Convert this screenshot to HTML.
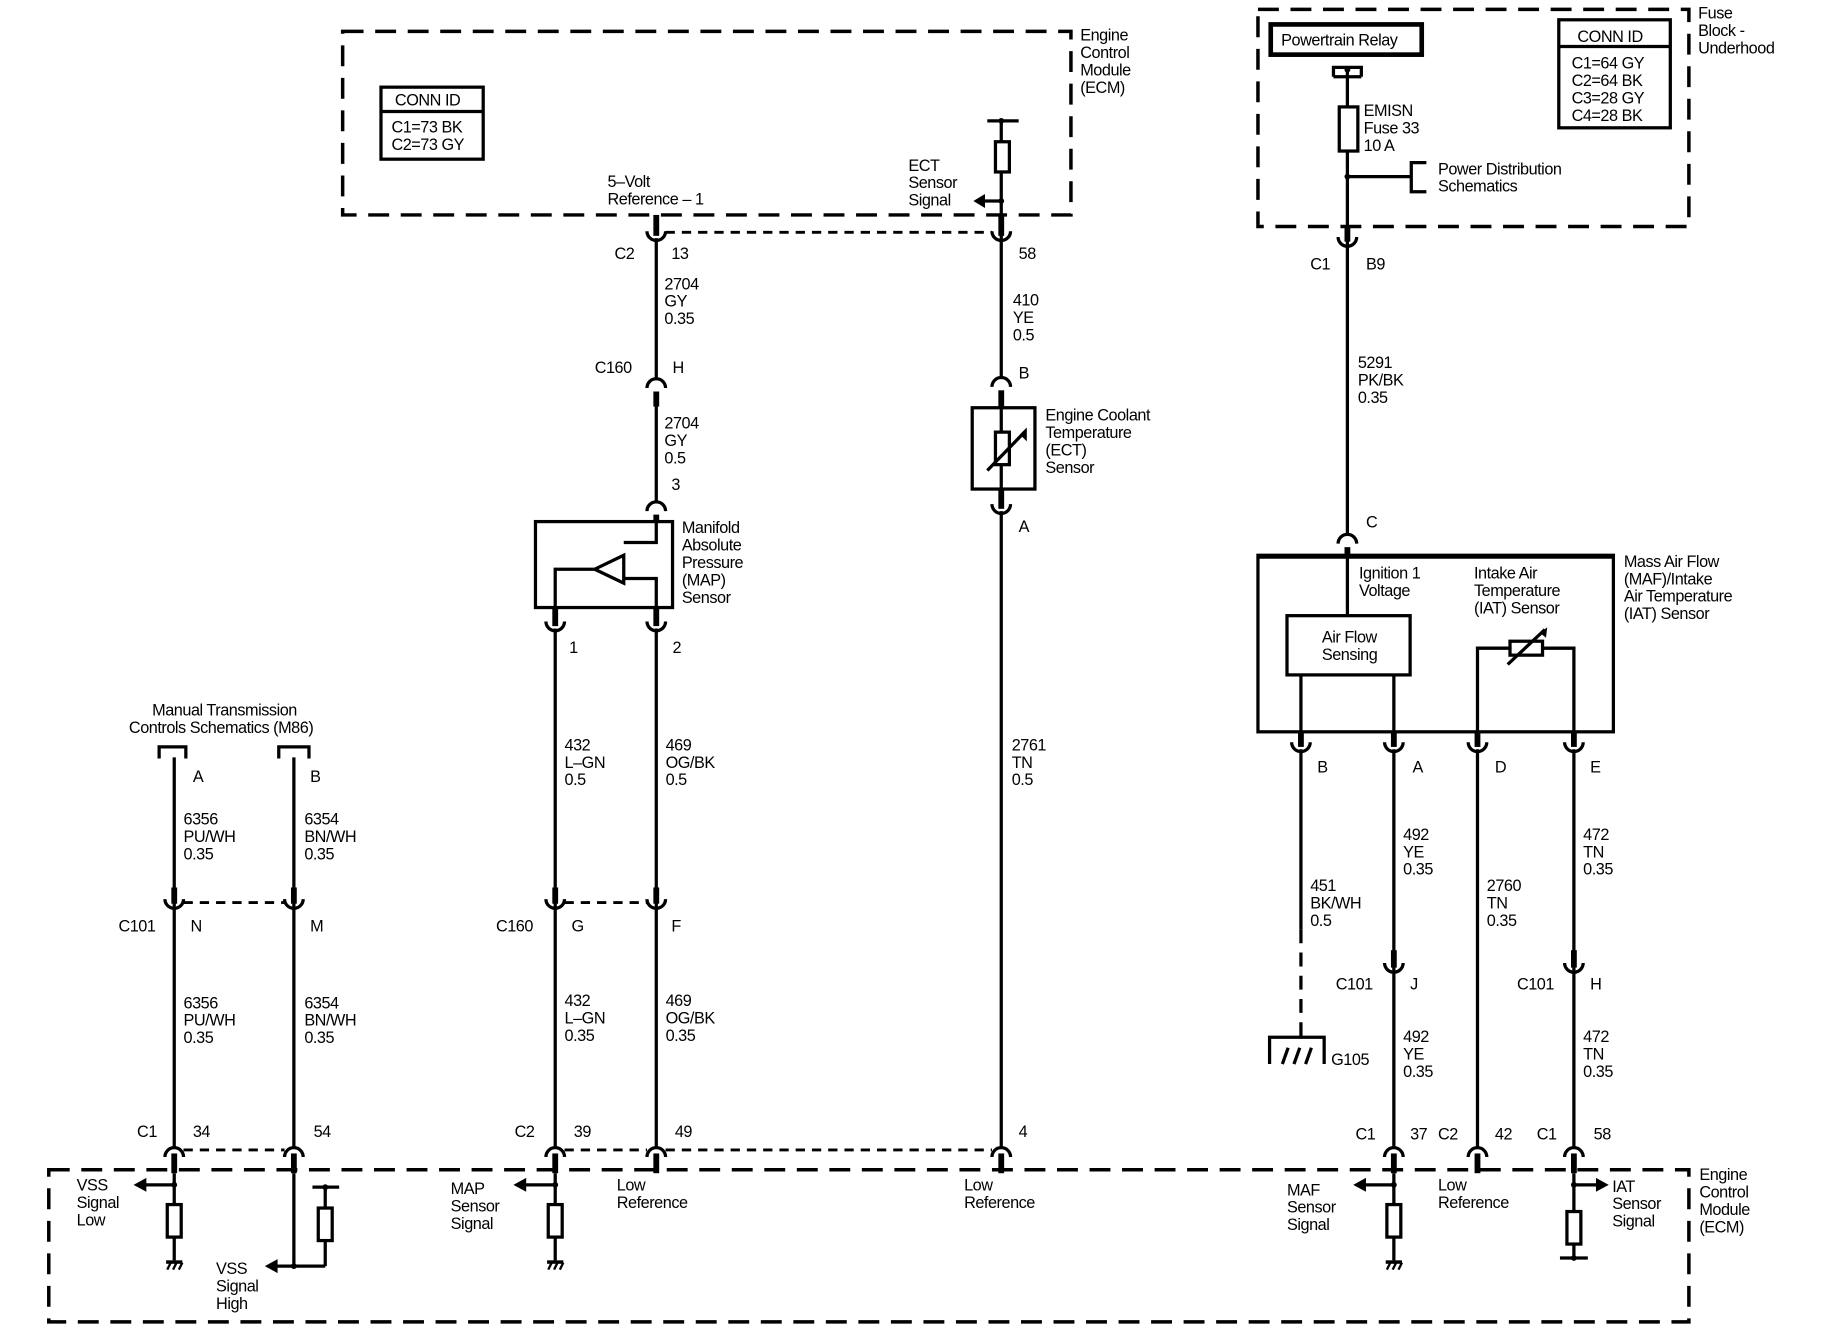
<!DOCTYPE html>
<html><head><meta charset="utf-8"><style>
html,body{margin:0;padding:0;background:#fff;}
svg{display:block}
text{font-family:"Liberation Sans",Arial,sans-serif;font-size:14px;fill:#000;letter-spacing:-0.4px}
</style></head><body>
<svg width="1822" height="1344" viewBox="0 0 1568.6 1157" xmlns="http://www.w3.org/2000/svg">
<g fill="none" stroke="#000" stroke-width="3" stroke-dasharray="18,10">
<rect x="295" y="27" width="627" height="158"/>
<rect x="1083" y="8" width="371" height="187"/>
<rect x="42" y="1007" width="1412" height="131"/>
</g>
<g fill="none" stroke="#000" stroke-width="2.5" stroke-dasharray="8,6">
<line x1="573" y1="200" x2="854" y2="200"/>
<line x1="486" y1="777" x2="557" y2="777"/>
<line x1="158" y1="777" x2="245" y2="777"/>
<line x1="486" y1="990" x2="557" y2="990"/>
<line x1="573" y1="990" x2="854" y2="990"/>
<line x1="158" y1="990" x2="245" y2="990"/>
</g>
<g fill="none" stroke="#000" stroke-width="2.8">
<line x1="565" y1="205" x2="565" y2="326"/>
<line x1="565" y1="345" x2="565" y2="432"/>
<line x1="862" y1="104" x2="862" y2="325"/>
<line x1="862" y1="440" x2="862" y2="988"/>
<line x1="478" y1="541" x2="478" y2="988"/>
<line x1="565" y1="541" x2="565" y2="988"/>
<line x1="150" y1="652" x2="150" y2="988"/>
<line x1="253" y1="652" x2="253" y2="988"/>
<line x1="1160" y1="60" x2="1160" y2="460"/>
<line x1="1120" y1="645" x2="1120" y2="800"/>
<line x1="1120" y1="800" x2="1120" y2="892" stroke-dasharray="12,8"/>
<line x1="1200" y1="645" x2="1200" y2="988"/>
<line x1="1272" y1="645" x2="1272" y2="988"/>
<line x1="1355" y1="645" x2="1355" y2="988"/>
<path d="M557,199 A8,8 0 0,0 573,199"/><path d="M854,199 A8,8 0 0,0 870,199"/>
<path d="M470,535 A8,8 0 0,0 486,535"/><path d="M557,535 A8,8 0 0,0 573,535"/>
<path d="M470,774 A8,8 0 0,0 486,774"/><path d="M557,774 A8,8 0 0,0 573,774"/>
<path d="M142,774 A8,8 0 0,0 158,774"/><path d="M245,774 A8,8 0 0,0 261,774"/>
<path d="M854,434 A8,8 0 0,0 870,434"/>
<path d="M1152,204 A8,8 0 0,0 1168,204"/>
<path d="M1112,639 A8,8 0 0,0 1128,639"/><path d="M1192,639 A8,8 0 0,0 1208,639"/>
<path d="M1264,639 A8,8 0 0,0 1280,639"/><path d="M1347,639 A8,8 0 0,0 1363,639"/>
<path d="M1192,829 A8,8 0 0,0 1208,829"/><path d="M1347,829 A8,8 0 0,0 1363,829"/>
<path d="M557,334 A8,8 0 0,1 573,334"/>
<path d="M557,440 A8,8 0 0,1 573,440"/>
<path d="M854,333 A8,8 0 0,1 870,333"/>
<path d="M1152,468 A8,8 0 0,1 1168,468"/>
<path d="M470,996 A8,8 0 0,1 486,996"/><path d="M557,996 A8,8 0 0,1 573,996"/><path d="M854,996 A8,8 0 0,1 870,996"/>
<path d="M142,996 A8,8 0 0,1 158,996"/><path d="M245,996 A8,8 0 0,1 261,996"/>
<path d="M1192,996 A8,8 0 0,1 1208,996"/><path d="M1264,996 A8,8 0 0,1 1280,996"/><path d="M1347,996 A8,8 0 0,1 1363,996"/>
</g>
<g stroke="#000" stroke-width="5">
<line x1="565" y1="185" x2="565" y2="203"/><line x1="862" y1="185" x2="862" y2="203"/>
<line x1="478" y1="523" x2="478" y2="539"/><line x1="565" y1="523" x2="565" y2="539"/>
<line x1="478" y1="764" x2="478" y2="778"/><line x1="565" y1="764" x2="565" y2="778"/>
<line x1="150" y1="764" x2="150" y2="778"/><line x1="253" y1="764" x2="253" y2="778"/>
<line x1="862" y1="421" x2="862" y2="438"/>
<line x1="1160" y1="195" x2="1160" y2="208"/>
<line x1="1120" y1="630" x2="1120" y2="643"/><line x1="1200" y1="630" x2="1200" y2="643"/>
<line x1="1272" y1="630" x2="1272" y2="643"/><line x1="1355" y1="630" x2="1355" y2="643"/>
<line x1="1200" y1="818" x2="1200" y2="833"/><line x1="1355" y1="818" x2="1355" y2="833"/>
<line x1="565" y1="337" x2="565" y2="350"/><line x1="565" y1="443" x2="565" y2="449"/>
<line x1="862" y1="336" x2="862" y2="351"/><line x1="1160" y1="471" x2="1160" y2="478"/>
<line x1="478" y1="993" x2="478" y2="1010"/><line x1="565" y1="993" x2="565" y2="1010"/><line x1="862" y1="993" x2="862" y2="1010"/>
<line x1="150" y1="993" x2="150" y2="1010"/><line x1="253" y1="993" x2="253" y2="1010"/>
<line x1="1200" y1="993" x2="1200" y2="1010"/><line x1="1272" y1="993" x2="1272" y2="1010"/><line x1="1355" y1="993" x2="1355" y2="1010"/>
</g>
<g fill="none" stroke="#000" stroke-width="2.8">
<rect x="328" y="75" width="88" height="62"/><line x1="328" y1="96" x2="416" y2="96"/>
<rect x="1342" y="17" width="96" height="93"/><line x1="1342" y1="40" x2="1438" y2="40"/>
<rect x="1094" y="21" width="130" height="26" stroke-width="4"/>
<rect x="461" y="449" width="118" height="74"/>
<polyline points="565,449 565,467 537,467"/>
<polygon points="537,478 537,502 512,490"/>
<polyline points="512,490 478,490 478,523"/>
<polyline points="537,498 565,498 565,523"/>
<rect x="837" y="351" width="54" height="70"/>
<line x1="862" y1="351" x2="862" y2="421"/>
<rect x="857" y="372" width="12" height="28" fill="#fff"/>
<line x1="850" y1="405" x2="882" y2="372"/>
<line x1="850" y1="104" x2="877" y2="104"/>
<rect x="857" y="122" width="12" height="26" fill="#fff"/>
<line x1="862" y1="173" x2="848" y2="173"/>
<polyline points="137,653 137,643 160,643 160,653"/>
<polyline points="240,653 240,643 266,643 266,653"/>
<polyline points="1148,66 1148,58 1172,58 1172,66"/>
<line x1="1148" y1="66" x2="1172" y2="66"/>
<rect x="1153" y="92" width="16" height="38" fill="#fff"/>
<line x1="1160" y1="152" x2="1215" y2="152"/>
<polyline points="1228,140 1215,140 1215,165 1228,165"/>
<rect x="1083" y="478" width="306" height="152"/>
<line x1="1083" y1="479" x2="1389" y2="479" stroke-width="4"/>
<line x1="1160" y1="478" x2="1160" y2="530"/>
<rect x="1108" y="530" width="106" height="51"/>
<line x1="1120" y1="581" x2="1120" y2="630"/>
<line x1="1200" y1="581" x2="1200" y2="630"/>
<polyline points="1272,630 1272,558 1355,558 1355,630"/>
<rect x="1300" y="552" width="28" height="12" fill="#fff"/>
<line x1="1298" y1="572" x2="1330" y2="542"/>
<polyline points="1093,916 1093,893 1140,893 1140,916"/>
<line x1="1104" y1="916" x2="1109" y2="902"/><line x1="1114" y1="916" x2="1119" y2="902"/><line x1="1124" y1="916" x2="1129" y2="902"/>
<line x1="150" y1="1010" x2="150" y2="1085"/>
<rect x="144" y="1037" width="12" height="28" fill="#fff"/>
<line x1="150" y1="1020" x2="125" y2="1020"/>
<line x1="253" y1="1010" x2="253" y2="1090"/>
<line x1="253" y1="1090" x2="280" y2="1090"/>
<line x1="280" y1="1022" x2="280" y2="1090"/>
<line x1="269" y1="1022" x2="292" y2="1022"/>
<rect x="274" y="1040" width="12" height="28" fill="#fff"/>
<line x1="253" y1="1090" x2="238" y2="1090"/>
<line x1="478" y1="1010" x2="478" y2="1085"/>
<rect x="472" y="1037" width="12" height="28" fill="#fff"/>
<line x1="478" y1="1020" x2="452" y2="1020"/>
<line x1="1200" y1="1010" x2="1200" y2="1085"/>
<rect x="1194" y="1037" width="12" height="28" fill="#fff"/>
<line x1="1200" y1="1020" x2="1175" y2="1020"/>
<line x1="1355" y1="1010" x2="1355" y2="1083"/>
<rect x="1349" y="1043" width="12" height="28" fill="#fff"/>
<line x1="1355" y1="1020" x2="1375" y2="1020"/>
<line x1="1343" y1="1083" x2="1367" y2="1083"/>
</g>
<g fill="#000">
<polygon points="838,173 848,167 848,179"/>
<polygon points="878,374 884,368 884,380" />
<polygon points="1332,540 1326,545 1331,549"/>
<polygon points="115,1020 126,1014 126,1026"/>
<polygon points="228,1090 239,1084 239,1096"/>
<polygon points="442,1020 453,1014 453,1026"/>
<polygon points="1165,1020 1176,1014 1176,1026"/>
<polygon points="1385,1020 1374,1014 1374,1026"/>
<circle cx="862" cy="173" r="2.5"/><circle cx="862" cy="104" r="2.5"/>
<circle cx="1160" cy="152" r="2.5"/><circle cx="1160" cy="60" r="2.5"/>
<circle cx="150" cy="1020" r="2.5"/><circle cx="253" cy="1090" r="2.5"/><circle cx="280" cy="1022" r="2.5"/>
<circle cx="478" cy="1020" r="2.5"/><circle cx="1200" cy="1020" r="2.5"/><circle cx="1355" cy="1020" r="2.5"/>
<circle cx="1355" cy="1083" r="2.5"/>
<rect x="143" y="1085" width="14" height="3"/><rect x="471" y="1085" width="14" height="3"/><rect x="1193" y="1085" width="14" height="3"/>
</g>
<g stroke="#000" stroke-width="2">
<line x1="144" y1="1093" x2="147" y2="1087"/><line x1="149" y1="1093" x2="152" y2="1087"/><line x1="154" y1="1093" x2="157" y2="1087"/>
<line x1="472" y1="1093" x2="475" y2="1087"/><line x1="477" y1="1093" x2="480" y2="1087"/><line x1="482" y1="1093" x2="485" y2="1087"/>
<line x1="1194" y1="1093" x2="1197" y2="1087"/><line x1="1199" y1="1093" x2="1202" y2="1087"/><line x1="1204" y1="1093" x2="1207" y2="1087"/>
</g>
<g>
<text x="930" y="35">Engine</text><text x="930" y="50">Control</text><text x="930" y="65">Module</text><text x="930" y="80">(ECM)</text>
<text x="340" y="91">CONN ID</text><text x="337" y="114">C1=73 BK</text><text x="337" y="129">C2=73 GY</text>
<text x="523" y="161">5–Volt</text><text x="523" y="176">Reference – 1</text>
<text x="782" y="147">ECT</text><text x="782" y="162">Sensor</text><text x="782" y="177">Signal</text>
<text x="529" y="223">C2</text><text x="578" y="223">13</text><text x="877" y="223">58</text>
<text x="572" y="249">2704</text><text x="572" y="264">GY</text><text x="572" y="279">0.35</text>
<text x="872" y="263">410</text><text x="872" y="278">YE</text><text x="872" y="293">0.5</text>
<text x="512" y="321">C160</text><text x="579" y="321">H</text><text x="877" y="326">B</text>
<text x="572" y="369">2704</text><text x="572" y="384">GY</text><text x="572" y="399">0.5</text>
<text x="578" y="422">3</text>
<text x="900" y="362">Engine Coolant</text><text x="900" y="377">Temperature</text><text x="900" y="392">(ECT)</text><text x="900" y="407">Sensor</text>
<text x="877" y="458">A</text>
<text x="587" y="459">Manifold</text><text x="587" y="474">Absolute</text><text x="587" y="489">Pressure</text><text x="587" y="504">(MAP)</text><text x="587" y="519">Sensor</text>
<text x="490" y="562">1</text><text x="579" y="562">2</text>
<text x="131" y="616">Manual Transmission</text><text x="111" y="631">Controls Schematics (M86)</text>
<text x="166" y="673">A</text><text x="267" y="673">B</text>
<text x="486" y="646">432</text><text x="486" y="661">L–GN</text><text x="486" y="676">0.5</text>
<text x="573" y="646">469</text><text x="573" y="661">OG/BK</text><text x="573" y="676">0.5</text>
<text x="871" y="646">2761</text><text x="871" y="661">TN</text><text x="871" y="676">0.5</text>
<text x="158" y="710">6356</text><text x="158" y="725">PU/WH</text><text x="158" y="740">0.35</text>
<text x="262" y="710">6354</text><text x="262" y="725">BN/WH</text><text x="262" y="740">0.35</text>
<text x="102" y="802">C101</text><text x="164" y="802">N</text><text x="267" y="802">M</text>
<text x="427" y="802">C160</text><text x="492" y="802">G</text><text x="578" y="802">F</text>
<text x="158" y="868">6356</text><text x="158" y="883">PU/WH</text><text x="158" y="898">0.35</text>
<text x="262" y="868">6354</text><text x="262" y="883">BN/WH</text><text x="262" y="898">0.35</text>
<text x="486" y="866">432</text><text x="486" y="881">L–GN</text><text x="486" y="896">0.35</text>
<text x="573" y="866">469</text><text x="573" y="881">OG/BK</text><text x="573" y="896">0.35</text>
<text x="118" y="979">C1</text><text x="166" y="979">34</text><text x="270" y="979">54</text>
<text x="443" y="979">C2</text><text x="494" y="979">39</text><text x="581" y="979">49</text><text x="877" y="979">4</text>
<text x="66" y="1025">VSS</text><text x="66" y="1040">Signal</text><text x="66" y="1055">Low</text>
<text x="186" y="1097">VSS</text><text x="186" y="1112">Signal</text><text x="186" y="1127">High</text>
<text x="388" y="1028">MAP</text><text x="388" y="1043">Sensor</text><text x="388" y="1058">Signal</text>
<text x="531" y="1025">Low</text><text x="531" y="1040">Reference</text>
<text x="830" y="1025">Low</text><text x="830" y="1040">Reference</text>
<text x="1108" y="1029">MAF</text><text x="1108" y="1044">Sensor</text><text x="1108" y="1059">Signal</text>
<text x="1238" y="1025">Low</text><text x="1238" y="1040">Reference</text>
<text x="1388" y="1026">IAT</text><text x="1388" y="1041">Sensor</text><text x="1388" y="1056">Signal</text>
<text x="1463" y="1016">Engine</text><text x="1463" y="1031">Control</text><text x="1463" y="1046">Module</text><text x="1463" y="1061">(ECM)</text>
<text x="1462" y="16">Fuse</text><text x="1462" y="31">Block -</text><text x="1462" y="46">Underhood</text>
<text x="1103" y="39">Powertrain Relay</text>
<text x="1358" y="36">CONN ID</text><text x="1353" y="59">C1=64 GY</text><text x="1353" y="74">C2=64 BK</text><text x="1353" y="89">C3=28 GY</text><text x="1353" y="104">C4=28 BK</text>
<text x="1174" y="100">EMISN</text><text x="1174" y="115">Fuse 33</text><text x="1174" y="130">10 A</text>
<text x="1238" y="150">Power Distribution</text><text x="1238" y="165">Schematics</text>
<text x="1128" y="232">C1</text><text x="1176" y="232">B9</text>
<text x="1169" y="317">5291</text><text x="1169" y="332">PK/BK</text><text x="1169" y="347">0.35</text>
<text x="1176" y="454">C</text>
<text x="1398" y="488">Mass Air Flow</text><text x="1398" y="503">(MAF)/Intake</text><text x="1398" y="518">Air Temperature</text><text x="1398" y="533">(IAT) Sensor</text>
<text x="1170" y="498">Ignition 1</text><text x="1170" y="513">Voltage</text>
<text x="1269" y="498">Intake Air</text><text x="1269" y="513">Temperature</text><text x="1269" y="528">(IAT) Sensor</text>
<text x="1138" y="553">Air Flow</text><text x="1138" y="568">Sensing</text>
<text x="1134" y="665">B</text><text x="1216" y="665">A</text><text x="1287" y="665">D</text><text x="1369" y="665">E</text>
<text x="1208" y="723">492</text><text x="1208" y="738">YE</text><text x="1208" y="753">0.35</text>
<text x="1363" y="723">472</text><text x="1363" y="738">TN</text><text x="1363" y="753">0.35</text>
<text x="1128" y="767">451</text><text x="1128" y="782">BK/WH</text><text x="1128" y="797">0.5</text>
<text x="1280" y="767">2760</text><text x="1280" y="782">TN</text><text x="1280" y="797">0.35</text>
<text x="1150" y="852">C101</text><text x="1214" y="852">J</text>
<text x="1306" y="852">C101</text><text x="1369" y="852">H</text>
<text x="1146" y="917">G105</text>
<text x="1208" y="897">492</text><text x="1208" y="912">YE</text><text x="1208" y="927">0.35</text>
<text x="1363" y="897">472</text><text x="1363" y="912">TN</text><text x="1363" y="927">0.35</text>
<text x="1167" y="981">C1</text><text x="1214" y="981">37</text><text x="1238" y="981">C2</text><text x="1287" y="981">42</text><text x="1323" y="981">C1</text><text x="1372" y="981">58</text>
</g>
</svg>
</body></html>
